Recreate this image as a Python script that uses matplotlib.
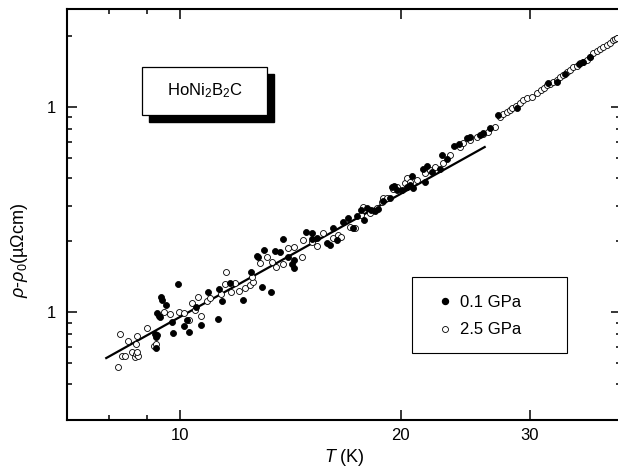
import matplotlib
matplotlib.use("Agg")
import matplotlib.pyplot as plt
from matplotlib.patches import Rectangle
from matplotlib.lines import Line2D
from matplotlib.ticker import FixedLocator, FixedFormatter, NullFormatter

plt.rcParams['font.family'] = ['Liberation Sans', 'DejaVu Sans']
plt.rcParams['mathtext.fontset'] = 'custom'
plt.rcParams['mathtext.rm'] = 'Liberation Sans'
plt.rcParams['mathtext.it'] = 'Liberation Sans:italic'

# 0.1 GPa (filled)
T_lo = [9.27, 9.27, 9.30, 9.24, 9.30, 9.36, 9.39, 9.42, 9.45, 9.57, 9.75, 9.78, 9.94,
        10.10, 10.22, 10.29, 10.52, 10.68, 10.92, 11.24, 11.31, 11.41, 11.70, 12.16,
        12.47, 12.71, 12.75, 12.91, 13.03, 13.28, 13.45, 13.66, 13.83, 14.05, 14.19,
        14.28, 14.28, 14.87, 15.11, 15.15, 15.39, 15.84, 15.99, 16.14, 16.35, 16.66,
        16.92, 17.19, 17.41, 17.68, 17.80, 17.97, 18.20, 18.42, 18.60, 18.89, 19.31,
        19.44, 19.56, 19.75, 20.06, 20.38, 20.57, 20.70, 20.77, 21.43, 21.57, 21.70,
        22.05, 22.61, 22.75, 23.11, 23.63, 24.00, 24.61, 24.85, 25.64, 25.88, 26.47,
        27.15, 28.80, 31.77, 32.69, 33.53, 35.10, 35.50, 36.27]
rho_lo = [0.0670, 0.0760, 0.0775, 0.0783, 0.0992, 0.0959, 0.0950, 0.1187, 0.1148, 0.1087,
          0.0893, 0.0790, 0.1380, 0.0858, 0.0917, 0.0801, 0.1060, 0.0868, 0.1256, 0.0930,
          0.1300, 0.1140, 0.1390, 0.1148, 0.1572, 0.1882, 0.1860, 0.1330, 0.2010, 0.1256,
          0.1980, 0.1960, 0.2280, 0.1860, 0.1720, 0.1644, 0.1799, 0.2460, 0.2440, 0.2280,
          0.2300, 0.2180, 0.2130, 0.2580, 0.2250, 0.2760, 0.2880, 0.2580, 0.2950, 0.3150,
          0.2830, 0.3230, 0.3150, 0.3130, 0.3190, 0.3480, 0.3610, 0.4090, 0.4140, 0.3950,
          0.3950, 0.4090, 0.4180, 0.4620, 0.4040, 0.5000, 0.4320, 0.5160, 0.4840, 0.5000,
          0.5850, 0.5600, 0.6470, 0.6620, 0.7090, 0.7170, 0.7330, 0.7490, 0.7930, 0.9170,
          0.9920, 1.314, 1.328, 1.450, 1.620, 1.660, 1.760]

# 2.5 GPa (open)
T_hi = [8.23, 8.28, 8.33, 8.41, 8.49, 8.60, 8.68, 8.71, 8.76, 8.73, 8.71, 8.73, 9.01,
        9.19, 9.27, 9.51, 9.69, 9.97, 10.10, 10.26, 10.38, 10.48, 10.58, 10.68, 10.89,
        10.99, 11.38, 11.52, 11.56, 11.74, 11.89, 12.04, 12.24, 12.43, 12.55, 12.51,
        12.83, 13.15, 13.36, 13.53, 13.79, 14.01, 14.32, 14.64, 14.69, 15.11, 15.39,
        15.64, 16.14, 16.40, 16.60, 17.03, 17.30, 17.68, 17.74, 18.14, 18.54, 18.83,
        18.89, 19.13, 19.50, 19.75, 20.25, 20.38, 20.57, 21.03, 21.57, 21.91, 22.26,
        22.83, 23.33, 24.08, 24.31, 24.85, 25.40, 25.88, 26.30, 26.89, 27.32, 27.58,
        27.93, 28.19, 28.37, 28.73, 29.09, 29.37, 29.74, 30.22, 30.69, 31.08, 31.37,
        31.67, 31.97, 32.28, 32.69, 32.99, 33.32, 33.74, 34.06, 34.38, 34.82, 35.15,
        35.50, 35.93, 36.27, 36.62, 37.08, 37.43, 37.78, 38.26, 38.62, 39.00, 39.25,
        39.50]
rho_hi = [0.0541, 0.0783, 0.0612, 0.0612, 0.0724, 0.0640, 0.0605, 0.0626, 0.0612, 0.0640,
          0.0700, 0.0766, 0.0838, 0.0684, 0.0700, 0.1000, 0.0984, 0.1000, 0.0992, 0.0917,
          0.1110, 0.1026, 0.1187, 0.0959, 0.1129, 0.1175, 0.1228, 0.1374, 0.1572, 0.1256,
          0.1390, 0.1270, 0.1314, 0.1360, 0.1410, 0.1490, 0.1740, 0.1870, 0.1760, 0.1660,
          0.1720, 0.2060, 0.2080, 0.1860, 0.2250, 0.2200, 0.2100, 0.2440, 0.2300, 0.2380,
          0.2330, 0.2600, 0.2580, 0.2980, 0.3260, 0.3050, 0.3230, 0.3450, 0.3610, 0.3610,
          0.3990, 0.4090, 0.4270, 0.4520, 0.4310, 0.4420, 0.4780, 0.4940, 0.5110, 0.5350,
          0.5850, 0.6400, 0.6690, 0.6930, 0.7170, 0.7410, 0.7580, 0.8010, 0.8970, 0.9300,
          0.9490, 0.9700, 0.9920, 1.015, 1.049, 1.085, 1.110, 1.123, 1.174, 1.215, 1.240,
          1.285, 1.300, 1.328, 1.360, 1.405, 1.440, 1.487, 1.520, 1.573, 1.590, 1.645,
          1.660, 1.700, 1.760, 1.840, 1.880, 1.930, 1.970, 2.010, 2.060, 2.130, 2.150,
          2.180]

# fitted T^2 line, end points
fit_T = [7.92, 26.05]
fit_rho = [0.0598, 0.640]

x_major = [10, 20, 30]
x_minor = [8, 9]
y_major = [0.1, 1]
y_major_labels = ['1', '1']
y_minor = [2.235, 0.894, 0.784, 0.677, 0.564, 0.450, 0.331, 0.223,
           0.0890, 0.0781, 0.0675, 0.0564, 0.0447]

fig = plt.figure(figsize=(6.18, 4.76), dpi=100)
ax = fig.add_axes([67 / 618, 1 - 420 / 476, 554 / 618, 410.5 / 476])
ax.set_xscale('log')
ax.set_yscale('log')
ax.set_xlim(7, 40)
ax.set_ylim(0.02982, 3.0)

ax.plot(fit_T, fit_rho, color='black', lw=1.6, zorder=2)
ax.plot(T_hi, rho_hi, 'o', ms=4.3, mfc='white', mec='black', mew=0.6, zorder=3)
ax.plot(T_lo, rho_lo, 'o', ms=4.3, mfc='black', mec='black', mew=0.6, zorder=4)

ax.xaxis.set_major_locator(FixedLocator(x_major))
ax.xaxis.set_major_formatter(FixedFormatter([str(v) for v in x_major]))
ax.xaxis.set_minor_locator(FixedLocator(x_minor))
ax.xaxis.set_minor_formatter(NullFormatter())
ax.yaxis.set_major_locator(FixedLocator(y_major))
ax.yaxis.set_major_formatter(FixedFormatter(y_major_labels))
ax.yaxis.set_minor_locator(FixedLocator(y_minor))
ax.yaxis.set_minor_formatter(NullFormatter())

ax.tick_params(which='both', direction='in', top=True, right=True, width=1.1,
               labelsize=12)
ax.tick_params(which='major', length=7)
ax.tick_params(which='minor', length=3.5)
ax.tick_params(axis='x', which='major', pad=6)
ax.tick_params(axis='y', which='major', pad=8)
for s in ax.spines.values():
    s.set_linewidth(1.5)

ax.set_xlabel('$T$ (K)', fontsize=13, labelpad=3)
fig.text(20 / 618, 1 - 250 / 476, r'$\rho$-$\rho_{\mathit{0}}$(µΩcm)', rotation=90,
         fontsize=13, ha='center', va='center')

# sample label box with shadow
ax.add_patch(Rectangle((0.1480, 0.726), 0.2256, 0.1169, transform=ax.transAxes,
                       facecolor='black', edgecolor='black', zorder=5))
ax.add_patch(Rectangle((0.1354, 0.743), 0.2256, 0.1169, transform=ax.transAxes,
                       facecolor='white', edgecolor='black', lw=0.9, zorder=6))
ax.text(0.2482, 0.8015, r'HoNi$_2$B$_2$C', transform=ax.transAxes, fontsize=12,
        ha='center', va='center', zorder=7)

# legend
ax.add_patch(Rectangle((0.6227, 0.1632), 0.2798, 0.1852, transform=ax.transAxes,
                       facecolor='white', edgecolor='black', lw=0.8, zorder=5))
handles = [Line2D([], [], ls='none', marker='o', ms=4.3, mfc='black', mec='black'),
           Line2D([], [], ls='none', marker='o', ms=4.3, mfc='white', mec='black', mew=0.6)]
leg = ax.legend(handles, ['0.1 GPa', '2.5 GPa'], loc='center left',
                bbox_to_anchor=(0.652, 0.253), frameon=False, fontsize=12,
                handlelength=1.0, handletextpad=0.4, labelspacing=0.75,
                borderpad=0)
leg.set_zorder(7)

fig.savefig('out.png', dpi=100)
